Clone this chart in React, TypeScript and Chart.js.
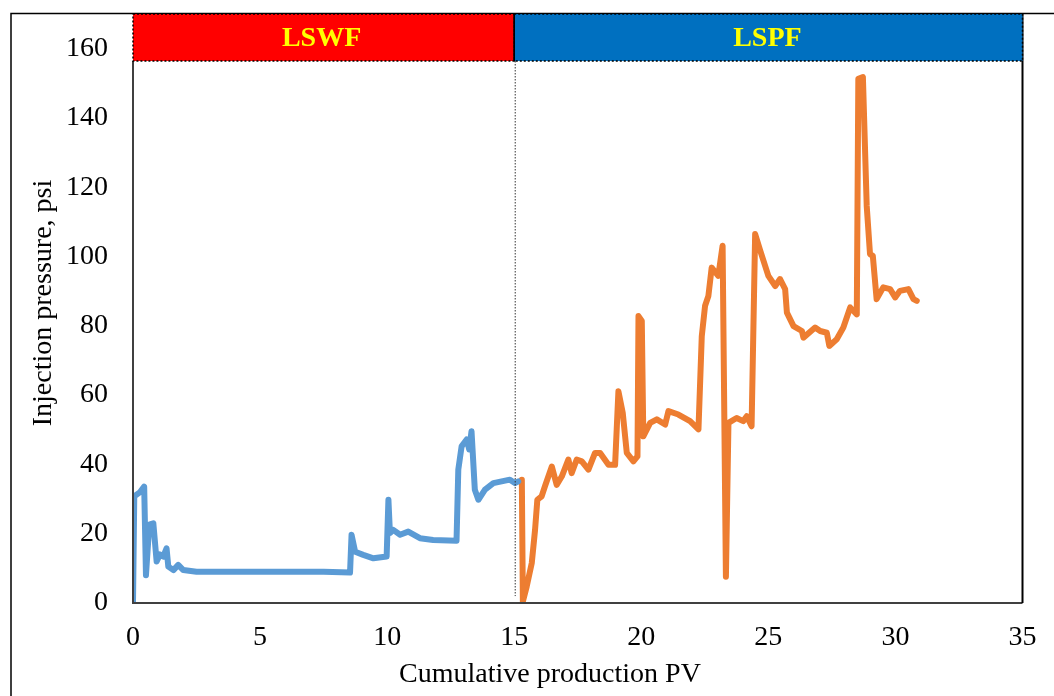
import React, { useEffect, useRef } from "react";
import { Chart, registerables } from "chart.js";

Chart.register(...registerables);

// ---- Data ----
const lswfPV = [0, 0.05, 0.28, 0.44, 0.51, 0.64, 0.8, 0.93, 1.06, 1.19, 1.32, 1.39, 1.59, 1.78, 1.98, 2.5, 3.5, 4.5, 5.5, 6.5, 7.5, 8.54, 8.6, 8.74, 9.06, 9.46, 9.98, 10.05, 10.11, 10.24, 10.51, 10.83, 11.29, 11.81, 12.73, 12.8, 12.93, 13.13, 13.23, 13.32, 13.45, 13.59, 13.85, 14.18, 14.83, 15.03, 15.16];
const lswfPsi = [0, 30.8, 32, 33.6, 8, 22.6, 23, 12, 14, 13.4, 15.8, 10.5, 9.5, 11, 9.5, 9, 9, 9, 9, 9, 9, 8.8, 19.7, 14.8, 13.9, 12.9, 13.4, 29.8, 20.2, 21.1, 19.7, 20.6, 18.7, 18.2, 18, 38.5, 45.2, 47.2, 44.3, 49.6, 32.7, 29.8, 32.7, 34.6, 35.6, 34.6, 35.1];

const lspfPV = [15.3, 15.34, 15.49, 15.69, 15.82, 15.91, 16.08, 16.21, 16.48, 16.67, 16.87, 17.13, 17.26, 17.46, 17.66, 17.92, 18.18, 18.38, 18.71, 18.97, 19.1, 19.27, 19.43, 19.69, 19.85, 19.89, 20.02, 20.08, 20.35, 20.61, 20.94, 21.07, 21.46, 21.92, 22.25, 22.38, 22.51, 22.64, 22.77, 23.03, 23.2, 23.33, 23.43, 23.75, 24.01, 24.15, 24.34, 24.48, 24.68, 25.0, 25.27, 25.46, 25.66, 25.73, 25.99, 26.32, 26.38, 26.84, 27.04, 27.3, 27.4, 27.69, 27.95, 28.22, 28.48, 28.54, 28.72, 28.87, 29.0, 29.11, 29.26, 29.52, 29.79, 29.99, 30.18, 30.51, 30.71, 30.84];
const lspfPsi = [35.6, 0.4, 4.7, 11.5, 21.1, 29.8, 30.8, 33.7, 39.4, 34.1, 36.5, 41.4, 37.5, 41.4, 40.9, 38.5, 43.3, 43.3, 39.9, 39.9, 61.1, 54.9, 43.3, 40.9, 42.3, 82.8, 81.4, 48.1, 52, 53, 51.5, 55.4, 54.4, 52.5, 50.1, 77, 85.8, 88.6, 96.8, 94.4, 103.1, 7.6, 52, 53.4, 52.5, 53.9, 51, 106.5, 101.7, 94.4, 91.5, 93.5, 90.6, 83.8, 79.9, 78.5, 76.6, 79.5, 78.5, 78, 74.2, 76.1, 79.5, 85.3, 83.3, 151.3, 151.8, 114.6, 100.7, 100.2, 87.7, 91.1, 90.6, 88.2, 90.1, 90.6, 87.7, 87.2];

const xTicksStep = 5;
const yTicksStep = 20;
const yTickMax = 160;
const bandLabels = ["LSWF", "LSPF"];
const bandSplit = 15;
const xTitle = "Cumulative production PV";
const yTitle = "Injection pressure, psi";

const FONT = "'Liberation Serif', 'Times New Roman', serif";

const decor = {
  id: "decor",
  beforeDraw(chart: any) {
    const { ctx, width, height } = chart;
    ctx.save();
    ctx.fillStyle = "#ffffff";
    ctx.fillRect(0, 0, width, height);
    ctx.restore();
  },
  afterDraw(chart: any) {
    const { ctx, chartArea: ca, scales } = chart;
    const xs = scales.x;
    const ys = scales.y;
    ctx.save();

    // outer frame
    ctx.strokeStyle = "#000";
    ctx.lineWidth = 1.5;
    ctx.strokeRect(11, 13.5, 1200, 800);

    const bandTop = ca.top;
    const bandBottom = ca.top + 47;
    const xMid = xs.getPixelForValue(bandSplit);

    // plot frame
    ctx.strokeStyle = "#404040";
    ctx.lineWidth = 2;
    ctx.beginPath();
    ctx.moveTo(ca.left, bandBottom);
    ctx.lineTo(ca.left, ca.bottom);
    ctx.lineTo(ca.right, ca.bottom);
    ctx.stroke();
    ctx.strokeStyle = "#000";
    ctx.beginPath();
    ctx.moveTo(ca.right, ca.bottom);
    ctx.lineTo(ca.right, bandTop);
    ctx.stroke();

    // bands
    ctx.fillStyle = "#FF0000";
    ctx.fillRect(ca.left, bandTop, xMid - ca.left, bandBottom - bandTop);
    ctx.fillStyle = "#0070C0";
    ctx.fillRect(xMid, bandTop, ca.right - xMid, bandBottom - bandTop);
    ctx.strokeStyle = "#000";
    ctx.lineWidth = 1.5;
    ctx.setLineDash([2, 2]);
    ctx.strokeRect(ca.left, bandTop, xMid - ca.left, bandBottom - bandTop);
    ctx.strokeRect(xMid, bandTop, ca.right - xMid, bandBottom - bandTop);
    ctx.setLineDash([]);
    ctx.beginPath();
    ctx.moveTo(xMid, bandTop);
    ctx.lineTo(xMid, bandBottom);
    ctx.stroke();

    // vertical dotted divider
    ctx.setLineDash([1.5, 1.5]);
    ctx.lineWidth = 1;
    ctx.strokeStyle = "#333";
    ctx.beginPath();
    ctx.moveTo(xMid + 1, bandBottom);
    ctx.lineTo(xMid + 1, ys.getPixelForValue(2));
    ctx.stroke();
    ctx.setLineDash([]);

    // band labels
    ctx.fillStyle = "#FFFF00";
    ctx.font = `bold 28px ${FONT}`;
    ctx.textAlign = "center";
    ctx.textBaseline = "middle";
    const by = (bandTop + bandBottom) / 2 + 1;
    ctx.fillText(bandLabels[0], (ca.left + xMid) / 2 - 2, by);
    ctx.fillText(bandLabels[1], (xMid + ca.right) / 2 - 1, by);

    // axis titles
    ctx.fillStyle = "#000";
    ctx.font = `28px ${FONT}`;
    ctx.fillText(xTitle, 550, 675);
    ctx.translate(44, 303);
    ctx.rotate(-Math.PI / 2);
    ctx.fillText(yTitle, 0, 0);

    ctx.restore();
  },
};

export default function App() {
  const ref = useRef<HTMLCanvasElement>(null);

  useEffect(() => {
    if (!ref.current) return;
    const chart = new Chart(ref.current, {
      type: "line",
      data: {
        datasets: [
          {
            label: bandLabels[0],
            data: lswfPV.map((x, i) => ({ x, y: lswfPsi[i] })),
            borderColor: "#5B9BD5",
            borderWidth: 6,
            pointRadius: 0,
            tension: 0,
            borderJoinStyle: "round",
            borderCapStyle: "round",
          },
          {
            label: bandLabels[1],
            data: lspfPV.map((x, i) => ({ x, y: lspfPsi[i] })),
            borderColor: "#ED7D31",
            borderWidth: 6,
            pointRadius: 0,
            tension: 0,
            borderJoinStyle: "round",
            borderCapStyle: "round",
          },
        ],
      },
      options: {
        responsive: false,
        animation: false,
        layout: { padding: { left: 0, top: 14, right: 31.5, bottom: 0 } },
        plugins: {
          legend: { display: false },
          tooltip: { enabled: false },
          title: { display: false },
        },
        scales: {
          x: {
            type: "linear",
            min: 0,
            max: 35,
            ticks: {
              stepSize: xTicksStep,
              color: "#000",
              font: { family: FONT, size: 28 },
              padding: 18,
              maxRotation: 0,
            },
            grid: { display: false, drawTicks: false },
            border: { display: false },
            afterFit: (s: any) => {
              s.height = 93;
              s.paddingLeft = 0;
              s.paddingRight = 0;
            },
          },
          y: {
            type: "linear",
            min: 0,
            max: 170,
            ticks: {
              stepSize: yTicksStep,
              color: "#000",
              font: { family: FONT, size: 28 },
              padding: 25,
            },
            afterBuildTicks: (s: any) => {
              s.ticks = s.ticks.filter((t: any) => t.value <= yTickMax);
            },
            grid: { display: false, drawTicks: false },
            border: { display: false },
            afterFit: (s: any) => {
              s.width = 133;
              s.paddingTop = 0;
              s.paddingBottom = 0;
            },
          },
        },
      },
      plugins: [decor],
    });
    return () => chart.destroy();
  }, []);

  return (
    <div style={{ position: "fixed", left: 0, top: 0, width: 1054, height: 696, background: "#fff" }}>
      <canvas ref={ref} width={1054} height={696} style={{ display: "block" }} />
    </div>
  );
}
